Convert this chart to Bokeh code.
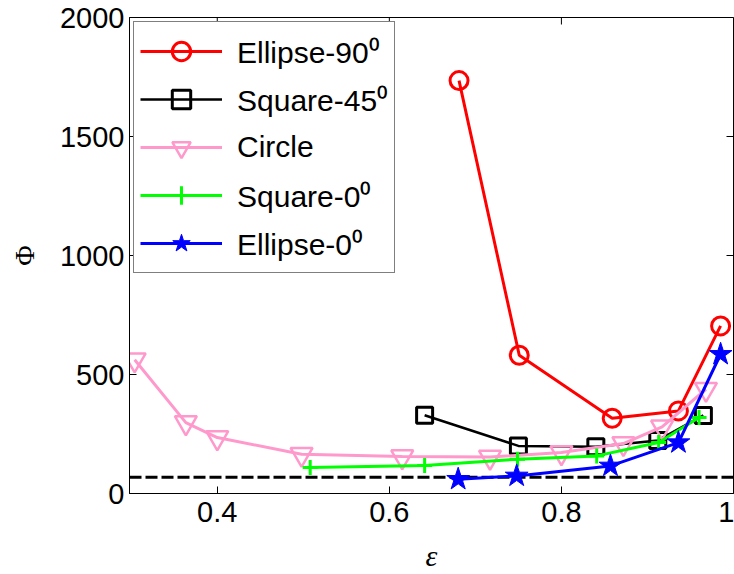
import math
from bokeh.plotting import figure
from bokeh.models import Range1d, Span, FixedTicker
from bokeh.embed import file_html
from bokeh.resources import INLINE

# ---- data ----
eps_e90 = [0.681, 0.751, 0.859, 0.936, 0.985]
phi_e90 = [1735, 581, 316, 347, 704]

eps_s45 = [0.641, 0.750, 0.840, 0.912, 0.965]
phi_s45 = [329, 200, 196, 223, 328]

eps_circ = [0.304, 0.3635, 0.400, 0.498, 0.615, 0.717, 0.800, 0.872, 0.917, 0.968]
phi_circ = [562, 298, 235, 165, 155, 153, 172, 210, 280, 438]

eps_s0 = [0.508, 0.641, 0.749, 0.841, 0.913, 0.960]
phi_s0 = [109, 118, 144, 158, 214, 319]

eps_e0 = [0.680, 0.748, 0.857, 0.936, 0.985]
phi_e0 = [60, 74, 116, 214, 585]

phi_ref = 68

x_min, x_max = 0.298, 1.0
y_min, y_max = 0, 2000
x_ticks = [0.4, 0.6, 0.8, 1.0]
y_ticks = [0, 500, 1000, 1500, 2000]

labels = ["Ellipse-90\u2070", "Square-45\u2070", "Circle", "Square-0\u2070", "Ellipse-0\u2070"]

FONT = "Liberation Sans"

p = figure(width=734, height=574, output_backend="svg", toolbar_location=None,
           x_range=Range1d(x_min, x_max), y_range=Range1d(y_min, y_max),
           min_border_left=129, min_border_right=1, min_border_top=17,
           min_border_bottom=81, background_fill_color="white",
           border_fill_color="white")
p.grid.visible = False
p.outline_line_color = "black"
p.outline_line_width = 1

def style_axis(ax):
    ax.major_tick_in = 7
    ax.major_tick_out = 0
    ax.minor_tick_in = 0
    ax.minor_tick_out = 0
    ax.axis_line_color = "black"
    ax.major_tick_line_color = "black"
    ax.major_label_text_font = FONT
    ax.major_label_text_font_size = "29px"
    ax.major_label_text_color = "black"
    ax.axis_label_text_color = "black"

xa = p.xaxis[0]
xa.ticker = FixedTicker(ticks=x_ticks)
xa.major_label_overrides = {1.0: "1"}
style_axis(xa)
xa.major_label_standoff = 8
xa.axis_label = "\u03b5"
xa.axis_label_text_font = "Liberation Serif"
xa.axis_label_text_font_style = "italic"
xa.axis_label_text_font_size = "30px"
xa.axis_label_standoff = 14

ya = p.yaxis[0]
ya.ticker = FixedTicker(ticks=y_ticks)
style_axis(ya)
ya.major_label_standoff = 5
ya.axis_label = "\u03a6"
ya.axis_label_text_font = "Liberation Serif"
ya.axis_label_text_font_style = "normal"
ya.axis_label_text_font_size = "28px"
ya.axis_label_standoff = 17

# mirrored inward ticks on top and right edges (half of each dash is clipped by the frame)
p.scatter(x_ticks, [y_max] * len(x_ticks), marker="dash", angle=math.pi / 2,
          size=14, line_color="black", line_width=1)
p.scatter([x_max] * len(y_ticks), y_ticks, marker="dash", angle=0,
          size=14, line_color="black", line_width=1)

span = Span(location=phi_ref, dimension="width", line_color="black",
            line_width=3, line_dash="12 4", level="underlay")
p.add_layout(span)

PINK = "#FF99CC"

p.line(eps_e90, phi_e90, line_color="red", line_width=3, legend_label=labels[0])
p.scatter(eps_e90, phi_e90, marker="circle", size=18, line_color="red",
          line_width=3, fill_alpha=0, legend_label=labels[0])

p.line(eps_s45, phi_s45, line_color="black", line_width=2.5, legend_label=labels[1])
p.scatter(eps_s45, phi_s45, marker="square", size=16, line_color="black",
          line_width=3, fill_alpha=0, legend_label=labels[1])

p.line(eps_circ, phi_circ, line_color=PINK, line_width=3, legend_label=labels[2])
p.scatter(eps_circ, phi_circ, marker="inverted_triangle", size=22, line_color=PINK,
          line_width=2.5, fill_alpha=0, legend_label=labels[2])

p.line(eps_s0, phi_s0, line_color="#00FF00", line_width=3, legend_label=labels[3])
p.scatter(eps_s0, phi_s0, marker="cross", size=15, line_color="#00FF00",
          line_width=3, legend_label=labels[3])

p.line(eps_e0, phi_e0, line_color="blue", line_width=3, legend_label=labels[4])
p.scatter(eps_e0, phi_e0, marker="star", size=24, line_color="blue",
          fill_color="blue", line_width=1, legend_label=labels[4])

lg = p.legend[0]
lg.location = "top_left"
lg.margin = 4
lg.padding = 6
lg.spacing = 2
lg.glyph_width = 82
lg.glyph_height = 46
lg.label_standoff = 15
lg.label_text_font = FONT
lg.label_text_font_size = "30px"
lg.label_text_color = "black"
lg.border_line_color = "black"
lg.border_line_width = 1
lg.background_fill_color = "white"
lg.background_fill_alpha = 1

open("out.html", "w").write(file_html(p, INLINE))
